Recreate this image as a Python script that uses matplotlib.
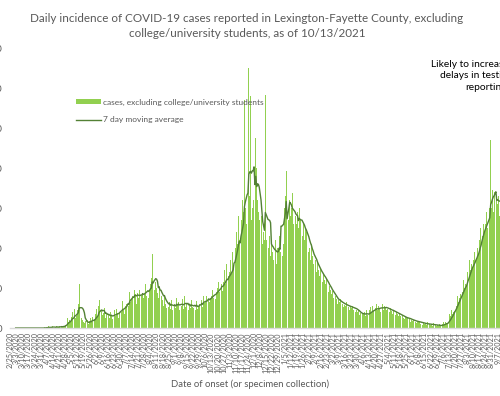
import matplotlib
matplotlib.use("Agg")
import matplotlib.pyplot as plt
import pandas as pd
import numpy as np

start_date = "2020-02-25"
end_date = "2021-10-13"

# daily cases (excluding college/university students), read week by week
weekly_cases = [
    [0, 0, 0, 0, 0, 0, 0],
    [0, 0, 0, 0, 0, 0, 0],
    [0, 0, 0, 0, 0, 0, 0],
    [0, 0, 0, 0, 0, 0, 0],
    [0, 0, 0, 0, 0, 0, 0],
    [0, 0, 0, 0, 1, 0, 1],
    [1, 0, 2, 1, 0, 1, 2],
    [1, 2, 0, 1, 2, 1, 1],
    [2, 1, 3, 2, 1, 3, 2],
    [4, 6, 9, 12, 8, 10, 7],
    [14, 20, 12, 18, 24, 13, 15],
    [22, 30, 55, 18, 25, 12, 10],
    [8, 6, 9, 4, 7, 10, 5],
    [9, 12, 8, 14, 10, 7, 11],
    [18, 24, 15, 28, 35, 14, 20],
    [22, 16, 19, 25, 12, 17, 15],
    [14, 18, 12, 20, 16, 11, 15],
    [17, 22, 15, 24, 19, 13, 20],
    [25, 30, 20, 34, 22, 18, 27],
    [30, 42, 38, 28, 45, 33, 36],
    [40, 50, 36, 47, 42, 30, 44],
    [38, 48, 35, 52, 40, 44, 37],
    [42, 55, 40, 60, 48, 38, 47],
    [55, 62, 93, 50, 66, 48, 58],
    [50, 44, 38, 52, 42, 47, 40],
    [35, 28, 40, 30, 25, 33, 29],
    [26, 32, 24, 35, 22, 30, 27],
    [30, 25, 38, 27, 33, 22, 28],
    [32, 28, 36, 24, 40, 26, 30],
    [27, 33, 22, 30, 25, 35, 26],
    [25, 30, 28, 22, 34, 24, 26],
    [30, 38, 28, 35, 26, 40, 31],
    [34, 40, 30, 44, 36, 32, 38],
    [40, 48, 38, 52, 42, 36, 45],
    [50, 58, 45, 62, 48, 55, 46],
    [58, 72, 55, 80, 60, 52, 65],
    [70, 85, 68, 95, 75, 110, 72],
    [100, 120, 105, 140, 110, 98, 130],
    [135, 160, 145, 285, 150, 130, 160],
    [150, 325, 165, 290, 135, 150, 160],
    [185, 170, 237, 200, 160, 145, 135],
    [130, 115, 140, 105, 120, 110, 291],
    [110, 95, 120, 100, 115, 90, 105],
    [95, 85, 105, 90, 110, 80, 100],
    [100, 115, 95, 291, 110, 90, 105],
    [150, 165, 196, 140, 155, 135, 160],
    [140, 150, 169, 130, 145, 125, 140],
    [130, 145, 125, 150, 135, 120, 140],
    [115, 130, 110, 125, 120, 100, 118],
    [95, 100, 85, 105, 90, 80, 92],
    [78, 85, 70, 82, 72, 65, 75],
    [62, 70, 58, 68, 60, 55, 62],
    [50, 55, 45, 52, 48, 42, 46],
    [38, 42, 34, 40, 36, 30, 35],
    [32, 36, 28, 34, 30, 26, 29],
    [28, 32, 25, 30, 26, 23, 27],
    [25, 28, 22, 27, 24, 20, 23],
    [20, 22, 16, 19, 17, 15, 18],
    [18, 20, 15, 22, 16, 14, 17],
    [22, 26, 20, 28, 21, 18, 24],
    [25, 30, 22, 28, 24, 20, 26],
    [26, 30, 23, 28, 25, 22, 24],
    [23, 26, 20, 25, 21, 18, 22],
    [19, 22, 16, 20, 17, 15, 18],
    [15, 17, 12, 16, 13, 11, 14],
    [12, 13, 10, 14, 11, 8, 10],
    [9, 10, 7, 11, 8, 6, 8],
    [7, 8, 5, 9, 6, 4, 6],
    [5, 6, 4, 7, 5, 3, 5],
    [4, 5, 3, 6, 4, 2, 4],
    [3, 4, 2, 5, 3, 2, 3],
    [5, 7, 4, 8, 6, 5, 7],
    [14, 18, 15, 22, 17, 20, 21],
    [30, 35, 28, 40, 33, 38, 42],
    [48, 52, 45, 60, 50, 55, 54],
    [70, 78, 65, 85, 72, 80, 75],
    [85, 95, 80, 105, 88, 100, 92],
    [110, 125, 105, 140, 115, 130, 120],
    [130, 145, 125, 160, 135, 150, 235],
    [150, 172, 145, 170, 155, 165, 160],
    [155, 165, 140, 170, 150, 145, 160],
]

y_ticks = [0, 50, 100, 150, 200, 250, 300, 350]

cases = [v for wk in weekly_cases for v in wk]
dates = pd.date_range(start_date, periods=len(cases), freq="D")
s = pd.Series(cases, index=dates, dtype=float)
ma = s.rolling(7).mean()

W, H = 500, 396
fig = plt.figure(figsize=(W / 100, H / 100), dpi=100)
fig.patch.set_facecolor("white")

d0 = pd.Timestamp(start_date)
ndays = (pd.Timestamp(end_date) - d0).days
px_per_day = 0.87
left_px, top_px, bottom_px = 10, 48, 328
width_px = (ndays + 1) * px_per_day
ax = fig.add_axes([left_px / W, 1 - bottom_px / H, width_px / W, (bottom_px - top_px) / H])

x = np.arange(len(cases))
bars = ax.bar(x, s.values, width=0.85, color="#92D050", linewidth=0)
line, = ax.plot(x, ma.values, color="#538135", linewidth=1.0)

ax.set_xlim(-0.5, ndays + 0.5)
ax.set_ylim(0, 350)
ax.set_yticks(y_ticks)
ax.set_yticklabels([str(v) for v in y_ticks], fontsize=7, color="#595959", family="Lato")
ax.tick_params(axis="y", length=0, pad=5.5)

tick_pos = np.arange(0, ndays + 1, 7)
tick_lbl = []
for p in tick_pos:
    d = (d0 + pd.Timedelta(days=int(p)))
    tick_lbl.append(f"{d.month}/{d.day}/{d.year}")
ax.set_xticks(tick_pos)
ax.set_xticklabels(tick_lbl, rotation=90, fontsize=5.2, color="#595959", family="Lato")
ax.tick_params(axis="x", length=0, pad=3)

for sp in ["top", "right", "left"]:
    ax.spines[sp].set_visible(False)
ax.spines["bottom"].set_color("#D9D9D9")
ax.spines["bottom"].set_linewidth(1.0)

fig.text(247 / W, 1 - 26 / H,
         "Daily incidence of COVID-19 cases reported in Lexington-Fayette County, excluding\ncollege/university students, as of 10/13/2021",
         ha="center", va="center", fontsize=8.4, color="#595959", family="Lato", linespacing=1.5)

fig.text(250 / W, 1 - 384 / H, "Date of onset (or specimen collection)",
         ha="center", va="center", fontsize=6.8, color="#595959", family="Lato")

fig.text(486 / W, 1 - 76 / H, "Likely to increase due to\ndelays in testing and\nreporting",
         ha="center", va="center", fontsize=7.4, color="black", family="Lato", linespacing=1.3)

leg = ax.legend([bars, line], ["cases, excluding college/university students", "7 day moving average"],
                loc="upper left", bbox_to_anchor=(68 / W, 1 - 91 / H), bbox_transform=fig.transFigure,
                frameon=False, handlelength=3.0, handleheight=0.6, labelspacing=1.3,
                handletextpad=0.3, prop={"family": "Lato", "size": 6})
for t in leg.get_texts():
    t.set_color("#595959")

fig.savefig("out.png", dpi=100)
